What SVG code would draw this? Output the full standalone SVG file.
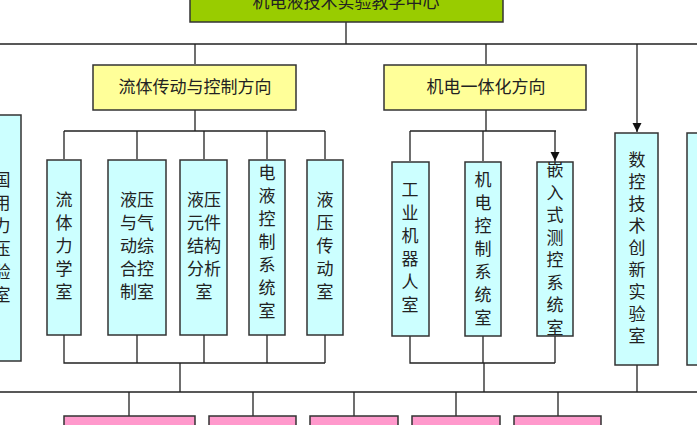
<svg xmlns="http://www.w3.org/2000/svg" width="697" height="425" viewBox="0 0 697 425">
<style>
.g{fill:#99cc00;stroke:#333;stroke-width:1.5}
.y{fill:#ffff99;stroke:#333;stroke-width:1.5}
.c{fill:#ccffff;stroke:#333;stroke-width:1.5}
.p{fill:#ff99cc;stroke:#333;stroke-width:1.5}
text{font-family:"Noto Sans CJK SC",sans-serif;font-size:17px;fill:#222;text-anchor:middle}
.l{fill:none;stroke:#222;stroke-width:1.3}
</style>
<defs><marker id="a" markerWidth="8" markerHeight="10" refX="4" refY="9" orient="auto" markerUnits="userSpaceOnUse" viewBox="0 0 8 10"><path d="M0,0 L8,0 L4,10 Z" transform="rotate(-90 4 5)" fill="#111"/></marker>
<marker id="b" markerWidth="9" markerHeight="11" refX="9" refY="4.5" orient="auto" markerUnits="userSpaceOnUse"><path d="M0,0 L9,4.5 L0,9 Z" fill="#111"/></marker></defs>
<g id="connectors" class="l">
<path d="M346,22V44M0,44H697"/>
<path d="M195,44V64M486,44V64M637,44V132" marker-end="url(#b)"/>
<path d="M195,110V131M64,131H325M486,110V131M410,131H556M483,131V161"/>
<path d="M64,131V159M137,131V159M204,131V159M267,131V159M325,131V159M410,131V161M555,131V161" marker-end="url(#b)"/>
<path d="M64,335V363H325M137,335V363M204,335V363M267,335V363M325,335V363M180,363V392"/>
<path d="M410,336V363H555M483,336V363M555,336V363M484,363V392M637,365V392"/>
<path d="M0,392H697M129,392V416M253,392V416M354,392V416M456,392V416M558,392V416"/>
</g>
<g id="center"><rect class="g" x="190" y="-20" width="313" height="42"/><text x="346" y="8">机电液技术实验教学中心</text></g>
<g id="dir1"><rect class="y" x="93" y="65" width="203" height="45"/><text x="195" y="93">流体传动与控制方向</text></g>
<g id="dir2"><rect class="y" x="384" y="65" width="202" height="45"/><text x="486" y="93">机电一体化方向</text></g>
<g id="left"><rect class="c" x="-20" y="115" width="41" height="246"/><text x="2" y="186"><tspan x="2">国</tspan><tspan x="2" dy="23">用</tspan><tspan x="2" dy="23">力</tspan><tspan x="2" dy="23">压</tspan><tspan x="2" dy="23">验</tspan><tspan x="2" dy="23">室</tspan></text></g>
<g id="r1"><rect class="c" x="47" y="160" width="34" height="175"/><text y="206"><tspan x="64">流</tspan><tspan x="64" dy="23">体</tspan><tspan x="64" dy="23">力</tspan><tspan x="64" dy="23">学</tspan><tspan x="64" dy="23">室</tspan></text></g>
<g id="r2"><rect class="c" x="108" y="160" width="58" height="175"/><text y="206"><tspan x="137">液压</tspan><tspan x="137" dy="23">与气</tspan><tspan x="137" dy="23">动综</tspan><tspan x="137" dy="23">合控</tspan><tspan x="137" dy="23">制室</tspan></text></g>
<g id="r3"><rect class="c" x="180" y="160" width="47" height="175"/><text y="206"><tspan x="204">液压</tspan><tspan x="204" dy="23">元件</tspan><tspan x="204" dy="23">结构</tspan><tspan x="204" dy="23">分析</tspan><tspan x="204" dy="23">室</tspan></text></g>
<g id="r4"><rect class="c" x="249" y="160" width="36" height="175"/><text y="179"><tspan x="267">电</tspan><tspan x="267" dy="23">液</tspan><tspan x="267" dy="23">控</tspan><tspan x="267" dy="23">制</tspan><tspan x="267" dy="23">系</tspan><tspan x="267" dy="23">统</tspan><tspan x="267" dy="23">室</tspan></text></g>
<g id="r5"><rect class="c" x="307" y="160" width="36" height="175"/><text y="206"><tspan x="325">液</tspan><tspan x="325" dy="23">压</tspan><tspan x="325" dy="23">传</tspan><tspan x="325" dy="23">动</tspan><tspan x="325" dy="23">室</tspan></text></g>
<g id="m1"><rect class="c" x="392" y="162" width="37" height="174"/><text y="196"><tspan x="410">工</tspan><tspan x="410" dy="23">业</tspan><tspan x="410" dy="23">机</tspan><tspan x="410" dy="23">器</tspan><tspan x="410" dy="23">人</tspan><tspan x="410" dy="23">室</tspan></text></g>
<g id="m2"><rect class="c" x="465" y="162" width="36" height="174"/><text y="186"><tspan x="483">机</tspan><tspan x="483" dy="23">电</tspan><tspan x="483" dy="23">控</tspan><tspan x="483" dy="23">制</tspan><tspan x="483" dy="23">系</tspan><tspan x="483" dy="23">统</tspan><tspan x="483" dy="23">室</tspan></text></g>
<g id="m3"><rect class="c" x="537" y="162" width="36" height="174"/><text y="176"><tspan x="555">嵌</tspan><tspan x="555" dy="22.5">入</tspan><tspan x="555" dy="22.5">式</tspan><tspan x="555" dy="22.5">测</tspan><tspan x="555" dy="22.5">控</tspan><tspan x="555" dy="22.5">系</tspan><tspan x="555" dy="22.5">统</tspan><tspan x="555" dy="22.5">室</tspan></text></g>
<g id="nc"><rect class="c" x="615" y="133" width="43" height="232"/><text y="166"><tspan x="637">数</tspan><tspan x="637" dy="22">控</tspan><tspan x="637" dy="22">技</tspan><tspan x="637" dy="22">术</tspan><tspan x="637" dy="22">创</tspan><tspan x="637" dy="22">新</tspan><tspan x="637" dy="22">实</tspan><tspan x="637" dy="22">验</tspan><tspan x="637" dy="22">室</tspan></text></g>
<g id="right"><rect class="c" x="687" y="133" width="40" height="232"/></g>
<g id="p1"><rect class="p" x="64" y="416" width="131" height="30"/></g>
<g id="p2"><rect class="p" x="209" y="416" width="87" height="30"/></g>
<g id="p3"><rect class="p" x="310" y="416" width="88" height="30"/></g>
<g id="p4"><rect class="p" x="412" y="416" width="88" height="30"/></g>
<g id="p5"><rect class="p" x="514" y="416" width="87" height="30"/></g>
</svg>
